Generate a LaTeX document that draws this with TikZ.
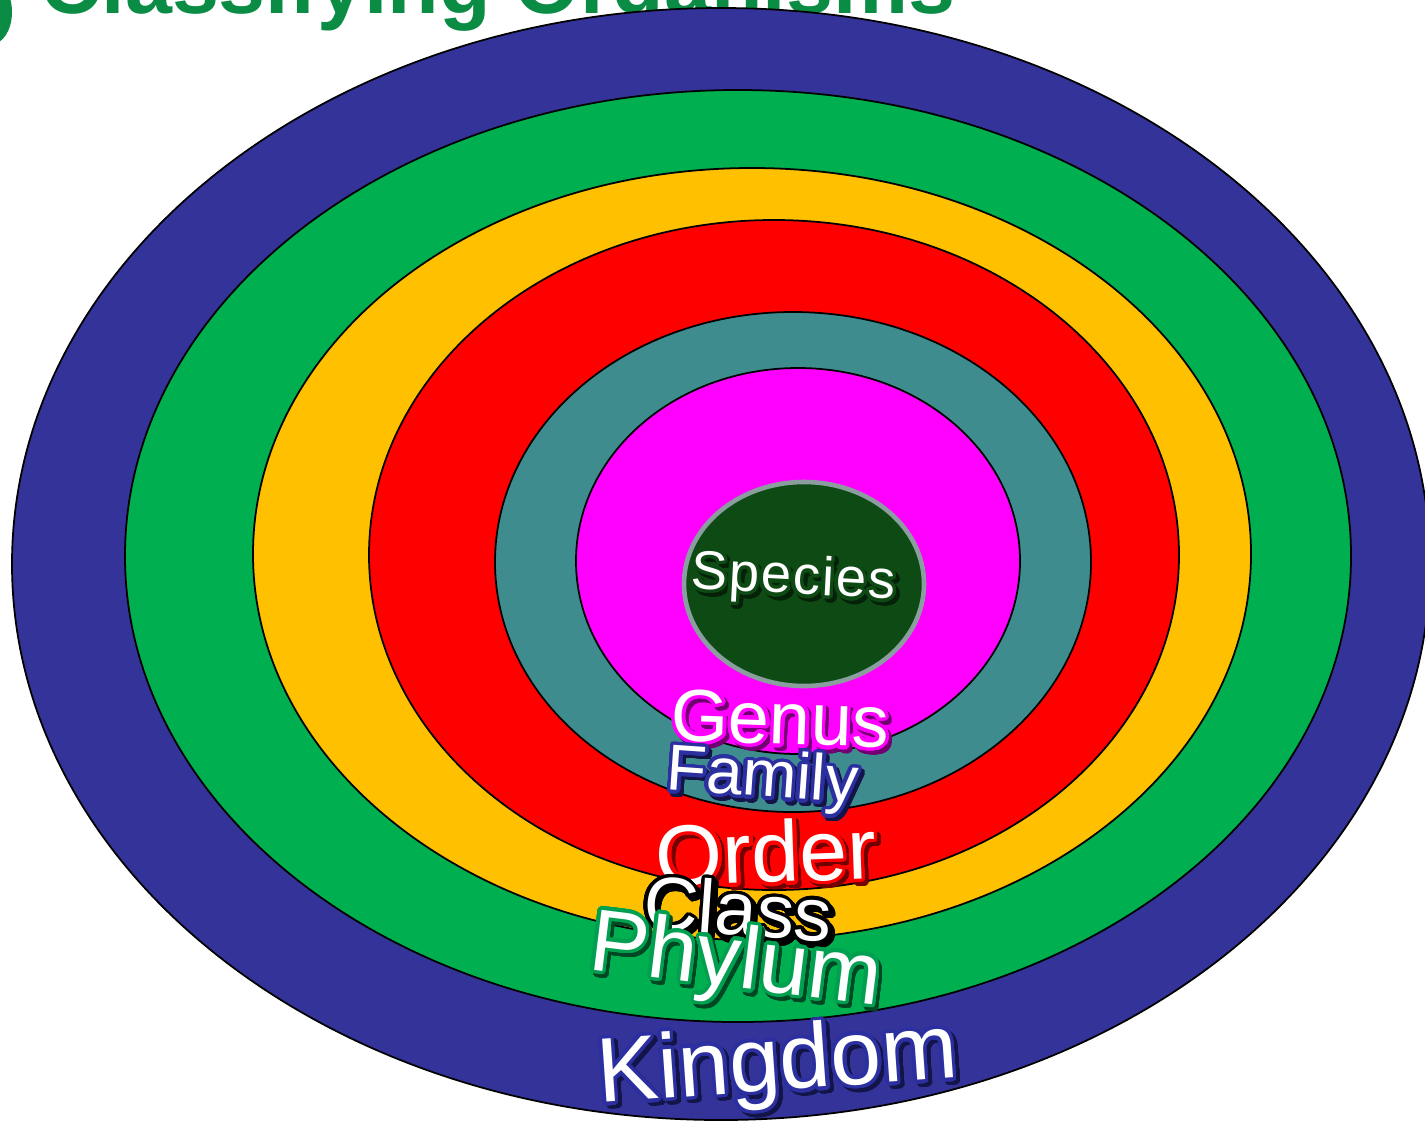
\documentclass[tikz,border=0pt]{standalone}
\usepackage{fontspec}
\setmainfont{Liberation Sans}
\usepackage{xcolor}
\usepackage[copies]{contour}
\contournumber{32}
\usepackage{tikz}

\definecolor{kgdBlue}{HTML}{333399}
\definecolor{phyGreen}{HTML}{00B050}
\definecolor{clsYellow}{HTML}{FFC000}
\definecolor{ordRed}{HTML}{FF0000}
\definecolor{famTeal}{HTML}{3F8C8F}
\definecolor{genMagenta}{HTML}{FF00FF}
\definecolor{spcGreen}{HTML}{0E4A13}
\definecolor{spcRim}{HTML}{8A9EA0}
\definecolor{ttlGreen}{HTML}{0B8C45}
\definecolor{famBlue}{HTML}{2B2FA0}
\definecolor{phyRim}{HTML}{00A050}

% white text with a coloured rim and a dark drop shadow
\newcommand{\rimtext}[2]{%
  \makebox[0pt][l]{\raisebox{-1pt}{\kern1pt\textcolor{#1!45!black}{\contour{#1!45!black}{#2}}}}%
  \contour{#1}{#2}}

\begin{document}
\begin{tikzpicture}[x=0.01cm,y=-0.01cm,
  ring/.style={draw=black,line width=0.5pt},
  lbl/.style={text=white,inner sep=0pt},
  ]
\useasboundingbox (0,0) rectangle (1425,1130);
\clip (0,0) rectangle (1425,1130);
% title, cut off by the top edge
\fill[ttlGreen] (-8,12) ellipse [x radius=20,y radius=32];
\node[anchor=base west,inner sep=0pt,text=ttlGreen,font=\bfseries\fontsize{24}{28}\selectfont] (ttl) at (40,13) {Classifying Organisms};
% rings, outer to inner
\draw[ring,fill=kgdBlue] (721,564) ellipse [x radius=709,y radius=556];
\draw[ring,fill=phyGreen] (738,556) ellipse [x radius=613,y radius=466];
\draw[ring,fill=clsYellow] (752,554) ellipse [x radius=499,y radius=386];
\draw[ring,fill=ordRed] (774,555) ellipse [x radius=405,y radius=335];
\draw[ring,fill=famTeal] (793,562) ellipse [x radius=298,y radius=250];
\draw[ring,fill=genMagenta] (798,561) ellipse [x radius=222,y radius=193];
\draw[draw=spcRim,line width=1.3pt,fill=spcGreen] (804,584) ellipse [x radius=120,y radius=102];
% labels
\contourlength{1pt}
\node[lbl,rotate=-3,font=\fontsize{15.5}{18}\selectfont] (spc) at (793,583) {\rimtext{spcGreen}{S\kern.5pt p\kern.5pt e\kern.5pt c\kern.5pt i\kern.5pt e\kern.5pt s}};
\node[lbl,rotate=-2,font=\fontsize{21}{24}\selectfont] (gen) at (780,722) {\rimtext{genMagenta}{Genus}};
\node[lbl,rotate=-4,font=\fontsize{18.5}{22}\selectfont] (fam) at (762,783) {\rimtext{famBlue}{Family}};
\node[lbl,rotate=2,font=\fontsize{24.5}{28}\selectfont] (ord) at (766,855) {\rimtext{ordRed}{Order}};
\node[lbl,rotate=-4,font=\fontsize{21.5}{25}\selectfont] (cls) at (738,912) {\rimtext{black}{Class}};
\node[lbl,rotate=-7,font=\fontsize{25}{29}\selectfont] (phy) at (735,968) {\rimtext{phyRim}{Phylum}};
\node[lbl,rotate=4,font=\fontsize{26}{30}\selectfont] (kgd) at (778,1070) {\rimtext{famBlue}{Kingdom}};
\end{tikzpicture}
\end{document}
